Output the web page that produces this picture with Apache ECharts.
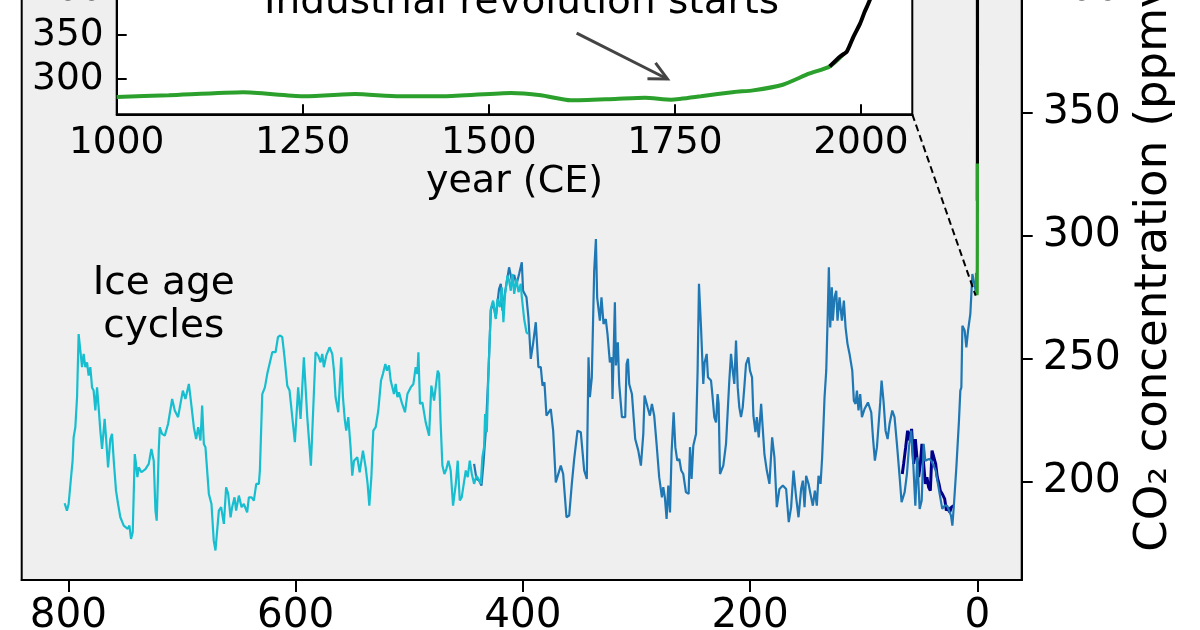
<!DOCTYPE html>
<html>
<head>
<meta charset="utf-8">
<script src="https://cdn.jsdelivr.net/npm/echarts@6/dist/echarts.min.js"></script>
<style>html,body{margin:0;padding:0;background:#fff;overflow:hidden}#c{width:1200px;height:710px;margin-top:-80px}</style>
</head>
<body>
<div id="c"></div>
<script>
// ---- data: main panel (thousands of years before present, ppmv) ----
const epicaCO2 = [[803.2,191.2],[801.2,188.2],[799.7,190.9],[797.3,203.1],[796.2,208.5],[795.3,218.0],[793.8,222.1],[792.3,234.3],[790.9,260.0],[789.4,253.3],[787.9,246.5],[786.5,251.9],[785.0,246.5],[783.5,248.5],[782.1,243.1],[780.6,246.5],[779.1,238.3],[777.7,237.0],[776.2,228.9],[774.7,238.3],[773.3,230.2],[771.8,220.7],[770.3,213.3],[768.0,225.5],[766.8,218.0],[765.0,205.8],[763.0,217.3],[761.5,219.4],[760.0,208.5],[758.0,196.3],[756.2,190.9],[754.2,185.5],[751.2,182.1],[749.8,182.8],[747.7,180.8],[746.2,182.1],[744.8,176.7],[743.3,179.4],[741.5,211.2],[740.4,207.2],[739.2,201.8],[738.0,205.8],[735.7,203.8],[732.1,205.1],[729.2,207.2],[726.9,213.3],[724.8,208.5],[723.3,188.2],[722.2,184.1],[720.4,212.6],[719.5,222.1],[717.5,219.4],[715.1,218.7],[712.2,223.4],[708.6,233.6],[706.3,228.9],[703.4,226.2],[701.3,231.6],[699.2,237.0],[696.9,233.6],[693.9,239.7],[692.5,234.3],[689.5,222.1],[687.5,217.3],[685.7,222.1],[683.7,216.7],[682.2,230.9],[680.7,215.3],[679.3,214.0],[676.3,195.0],[674.0,190.9],[672.0,176.0],[670.5,172.0],[669.0,180.1],[667.5,188.2],[665.5,189.6],[663.1,182.8],[661.1,197.7],[659.3,195.0],[657.2,185.5],[655.8,189.6],[653.7,193.6],[652.3,188.2],[649.9,194.3],[647.5,189.6],[645.5,190.9],[642.6,187.5],[641.1,193.6],[638.7,193.6],[636.7,192.3],[634.6,199.1],[632.3,199.1],[631.4,204.5],[629.3,235.6],[627.0,238.3],[624.9,243.8],[622.9,247.8],[620.5,252.6],[617.6,252.6],[615.5,258.7],[613.5,259.4],[611.7,258.7],[609.7,250.5],[607.3,239.0],[605.3,237.0],[600.6,216.0],[597.7,238.3],[595.6,225.5],[592.7,250.5],[589.7,226.2],[586.5,206.5],[582.4,252.6],[580.1,251.2],[578.0,248.5],[576.5,251.9],[575.1,246.5],[573.0,251.2],[570.1,254.6],[567.7,251.9],[566.2,245.1],[564.8,234.3],[562.4,228.2],[559.8,250.5],[558.3,234.3],[556.6,224.8],[555.4,220.7],[553.6,226.2],[551.6,214.0],[550.1,202.4],[548.6,208.5],[545.7,209.9],[543.6,203.8],[540.7,212.6],[538.3,205.8],[536.6,199.1],[535.1,190.2],[533.3,201.8],[531.6,220.7],[529.5,222.1],[527.2,228.9],[524.8,241.1],[523.1,243.8],[521.0,247.8],[519.6,245.1],[517.8,247.2],[516.3,241.1],[514.9,241.7],[513.4,235.6],[511.9,239.7],[510.4,234.3],[509.0,236.3],[506.6,232.2],[503.7,228.2],[501.6,235.6],[498.7,238.3],[496.3,239.7],[494.3,246.5],[492.8,243.8],[491.9,252.6],[490.5,231.6],[488.4,232.2],[486.7,231.6],[485.5,224.1],[482.5,218.7],[480.5,239.0],[478.1,232.9],[476.7,238.3],[474.9,245.1],[473.7,243.8],[472.3,223.4],[470.8,206.5],[469.0,203.1],[467.3,205.1],[465.5,208.5],[463.5,204.5],[461.4,190.2],[459.0,199.1],[457.3,208.5],[455.5,192.3],[453.8,193.6],[452.0,199.1],[450.2,204.5],[448.5,201.8],[446.7,208.5],[444.9,203.1],[442.9,199.1],[440.8,202.4],[439.1,201.1],[437.0,199.1],[435.6,209.9],[434.1,214.0],[433.2,227.5],[431.7,220.1],[430.3,243.8],[428.2,270.2],[426.2,273.6],[423.8,266.1],[422.3,274.3],[420.3,270.9],[418.5,279.0],[417.1,264.8],[415.6,276.3],[413.5,283.7],[412.1,281.7],[410.6,277.6],[409.1,284.4],[407.6,276.3],[405.6,282.4],[403.8,277.0],[401.8,280.4],[400.9,275.0],[398.8,266.0],[396.8,260.7],[395.4,260.0]];

const vostokCO2 = [[442.9,207.2],[440.8,201.1],[438.5,200.4],[436.4,198.4],[434.7,207.2],[432.6,220.7],[430.3,243.8],[428.2,269.5],[426.2,272.9],[423.8,266.8],[420.9,278.4],[419.4,280.4],[417.9,269.5],[415.6,277.0],[412.1,287.1],[409.7,281.7],[407.6,284.0],[405.6,280.0],[403.3,284.4],[400.9,289.2],[399.8,277.6],[396.8,274.9],[395.1,266.8],[393.0,249.9],[391.0,256.0],[388.6,264.8],[386.3,246.5],[384.2,246.5],[382.7,239.0],[381.0,240.4],[379.2,226.8],[375.4,229.5],[373.3,220.7],[371.0,199.7],[366.6,206.5],[364.5,203.1],[361.6,185.5],[359.2,186.2],[356.9,199.1],[354.8,209.2],[351.9,220.7],[349.0,220.1],[346.0,204.5],[343.7,201.1],[342.2,250.5],[341.0,234.3],[339.3,242.4],[337.2,285.8],[335.7,298.6],[334.6,274.9],[332.2,265.4],[330.8,274.9],[329.0,264.1],[327.0,266.1],[325.5,260.0],[323.4,248.5],[321.7,250.5],[321.1,233.6],[319.0,272.9],[318.1,247.2],[316.4,256.6],[315.2,239.7],[312.8,226.2],[309.9,226.2],[308.7,247.8],[307.5,249.9],[306.4,239.7],[304.0,235.6],[301.1,217.3],[298.4,212.6],[296.1,206.5],[294.0,219.4],[292.9,235.0],[290.2,230.2],[288.2,226.8],[286.4,231.6],[284.4,226.8],[282.3,215.3],[280.0,201.8],[277.6,193.6],[276.4,197.7],[275.0,193.6],[273.5,184.8],[272.0,198.4],[270.5,187.5],[269.1,211.9],[267.3,228.2],[265.8,214.0],[264.1,208.5],[262.3,209.2],[260.6,204.5],[258.8,203.1],[256.5,195.7],[254.1,195.0],[252.9,214.0],[251.5,201.1],[250.0,214.6],[247.6,219.4],[246.2,245.1],[245.0,280.4],[243.2,262.7],[241.2,239.7],[240.0,248.5],[238.2,251.9],[237.1,242.4],[234.4,241.1],[233.0,234.3],[231.5,226.2],[230.0,224.1],[228.6,235.6],[227.7,231.6],[226.5,203.1],[223.6,206.5],[221.2,215.3],[219.7,214.6],[218.3,241.1],[216.8,251.9],[215.3,245.1],[213.9,239.7],[212.4,257.3],[210.9,238.3],[209.5,230.2],[208.0,226.2],[206.5,230.2],[205.1,238.3],[203.6,247.8],[201.5,250.5],[200.1,245.1],[198.3,242.4],[197.1,226.8],[195.3,220.1],[194.1,226.2],[192.4,218.0],[190.3,231.6],[188.9,230.9],[187.4,211.2],[185.3,204.5],[183.0,199.1],[180.6,218.0],[178.6,209.9],[176.5,189.6],[174.2,197.0],[171.2,198.4],[168.3,197.0],[166.0,183.5],[163.9,189.6],[161.8,204.5],[159.5,193.6],[157.4,185.5],[155.1,197.0],[153.6,200.4],[152.1,189.6],[150.7,202.4],[148.6,199.1],[146.9,195.0],[144.8,190.2],[143.0,196.3],[141.3,190.2],[139.8,202.4],[138.0,199.1],[136.6,209.9],[135.4,223.4],[134.5,234.3],[133.0,245.1],[131.6,269.5],[130.7,287.1],[129.5,262.7],[128.1,279.0],[127.2,265.4],[125.7,274.9],[124.2,277.6],[123.1,265.4],[121.3,274.9],[119.2,265.4],[117.5,273.6],[116.0,262.7],[114.3,256.0],[112.5,251.9],[110.1,245.1],[108.7,232.9],[107.2,231.6],[106.0,237.0],[104.6,228.9],[103.1,235.6],[101.6,226.2],[99.3,229.5],[96.3,232.2],[93.4,228.2],[91.9,218.0],[90.2,208.5],[88.4,214.0],[86.9,214.0],[85.5,232.2],[84.3,241.1],[82.5,232.2],[80.8,220.7],[79.0,217.3],[77.3,223.4],[74.9,228.9],[72.9,226.2],[70.8,215.3],[68.4,201.8],[66.7,191.6],[64.0,195.7],[62.0,203.1],[60.2,214.0],[58.2,220.7],[56.7,209.9],[54.6,190.2],[52.9,209.9],[50.8,188.9],[49.0,192.3],[47.3,215.3],[45.8,208.5],[44.4,208.5],[42.6,209.2],[40.5,208.5],[38.5,206.5],[36.7,204.5],[34.7,199.1],[33.2,195.0],[30.9,188.9],[28.8,190.2],[26.7,190.2],[25.0,189.6],[23.2,186.2],[22.0,182.1],[20.6,190.9],[18.5,205.8],[16.2,224.8],[15.0,237.0],[14.1,238.3],[13.2,263.4],[11.2,261.4],[9.7,254.6],[8.2,261.4],[6.2,268.2],[4.4,284.4],[2.9,283.7],[1.5,277.6],[0.3,279.0]];

const taylorCO2 = [[66.1,203.1],[64.9,207.2],[63.1,214.0],[61.4,220.7],[59.6,216.7],[57.9,221.4],[56.1,207.2],[54.6,217.3],[53.2,218.0],[51.7,201.8],[50.2,207.2],[48.8,215.3],[47.3,215.3],[45.8,199.1],[44.4,201.8],[42.9,197.7],[41.4,196.3],[39.9,212.6],[38.5,212.6],[36.7,207.2],[35.3,201.8],[33.8,199.1],[32.6,196.3],[30.9,195.0],[28.8,193.0],[27.3,188.2],[25.9,189.6],[24.4,187.5],[22.9,189.6],[20.9,190.2]];

// ---- data: inset (year CE, ppmv) ----
const lawDomeYear = [1000,1070,1170,1250,1320,1380,1440,1530,1570,1610,1670,1710,1745,1785,1830,1855,1895,1930,1958,1978];
const lawDomeCO2  = [279.7,281.5,284.9,280.4,283.0,280.4,280.4,284.2,281.5,275.8,277.4,278.6,276.6,280.4,285.3,287.1,293.5,306.0,314.2,329.3];
const maunaLoaYear = [1958,1972,1981,1990,1999,2005,2012,2018];
const maunaLoaCO2  = [314.2,325.5,331.0,348.0,363.0,376.0,389.5,408.0];

// ---- tick labels ----
const mainXTicks = [0,200,400,600,800];
const mainYTicks = [200,250,300,350,400];
const insetXTicks = [1000,1250,1500,1750,2000];
const insetYTicks = [300,350,400];

const FONT = 'DejaVu Sans';
const toKyr = y => (1950 - y) / 1000;
const zip = (a, b) => a.map((v, i) => [v, b[i]]);

const chart = echarts.init(document.getElementById('c'), null, {renderer: 'canvas'});

const axisBase = (extra) => Object.assign({
  type: 'value',
  splitLine: {show: false},
  axisLine: {show: true, onZero: false, lineStyle: {color: '#000', width: 2}},
}, extra);

const option = {
  animation: false,
  backgroundColor: '#ffffff',
  grid: [
    {left: 21.7, right: 178.3, top: 15.5, bottom: 50, show: true, outerBoundsMode: 'none', containLabel: false,
     backgroundColor: '#efefef', borderColor: '#000', borderWidth: 2},
    {left: 116.7, right: 287.7, top: 53, bottom: 515.7, show: true, outerBoundsMode: 'none', containLabel: false,
     backgroundColor: '#ffffff', borderColor: '#000', borderWidth: 2}
  ],
  xAxis: [
    axisBase({gridIndex: 0, min: -39, max: 841, inverse: true, position: 'bottom',
      axisTick: {show: true, customValues: mainXTicks, length: 12, lineStyle: {color: '#000', width: 2}},
      axisLabel: {customValues: mainXTicks, formatter: v => String(v), fontSize: 40.5, color: '#000', fontFamily: FONT, margin: 16}}),
    axisBase({gridIndex: 1, min: 1000, max: 2069, position: 'bottom',
      name: 'year (CE)', nameLocation: 'middle', nameGap: 46,
      nameTextStyle: {fontSize: 38, color: '#000', fontFamily: FONT},
      axisTick: {show: true, inside: true, customValues: insetXTicks, length: 10, lineStyle: {color: '#000', width: 2}},
      axisLabel: {customValues: insetXTicks, formatter: v => String(v), fontSize: 37.5, color: '#000', fontFamily: FONT, margin: 10}})
  ],
  yAxis: [
    axisBase({gridIndex: 0, min: 160, max: 422, position: 'right',
      name: 'CO\u2082 concentration (ppmv)', nameLocation: 'middle', nameRotate: 90, nameGap: 109,
      nameTextStyle: {fontSize: 45, color: '#000', fontFamily: FONT},
      axisTick: {show: true, customValues: mainYTicks, length: 11, lineStyle: {color: '#000', width: 2}},
      axisLabel: {customValues: mainYTicks, formatter: v => String(v), fontSize: 41, color: '#000', fontFamily: FONT, margin: 21}}),
    axisBase({gridIndex: 1, min: 260, max: 420, position: 'left',
      axisTick: {show: true, inside: true, customValues: insetYTicks, length: 10, lineStyle: {color: '#000', width: 2}},
      axisLabel: {customValues: insetYTicks, formatter: v => String(v), fontSize: 37.5, color: '#000', fontFamily: FONT, margin: 13}})
  ],
  series: [
    {type: 'line', xAxisIndex: 0, yAxisIndex: 0, data: taylorCO2, showSymbol: false,
     lineStyle: {color: '#00008b', width: 3}, z: 2},
    {type: 'line', xAxisIndex: 0, yAxisIndex: 0, data: vostokCO2, showSymbol: false,
     lineStyle: {color: '#1f77b4', width: 2.2}, z: 3},
    {type: 'line', xAxisIndex: 0, yAxisIndex: 0, data: epicaCO2, showSymbol: false,
     lineStyle: {color: '#17becf', width: 2.2}, z: 4},
    {type: 'line', xAxisIndex: 0, yAxisIndex: 0, data: zip(maunaLoaYear.map(toKyr), maunaLoaCO2), showSymbol: false,
     lineStyle: {color: '#000000', width: 3.2}, z: 5},
    {type: 'line', xAxisIndex: 0, yAxisIndex: 0, data: zip(lawDomeYear.map(toKyr), lawDomeCO2), showSymbol: false,
     lineStyle: {color: '#2ca02c', width: 3.2}, z: 6},
    {type: 'line', xAxisIndex: 1, yAxisIndex: 1, data: zip(lawDomeYear, lawDomeCO2), showSymbol: false, smooth: 0.2,
     lineStyle: {color: '#2ca02c', width: 4}, z: 5},
    {type: 'line', xAxisIndex: 1, yAxisIndex: 1, data: zip(maunaLoaYear, maunaLoaCO2), showSymbol: false, smooth: 0.2,
     lineStyle: {color: '#000000', width: 4}, z: 6},
    {type: 'custom', xAxisIndex: 1, yAxisIndex: 1, data: [[1618, 352, 1740, 300]], z: 7,
     renderItem: function (params, api) {
       const a = api.coord([api.value(0), api.value(1)]);
       const b = api.coord([api.value(2), api.value(3)]);
       const ang = Math.atan2(a[1] - b[1], a[0] - b[0]);
       const L = 20, spread = 26.5 * Math.PI / 180;
       const h1 = [b[0] + L * Math.cos(ang + spread), b[1] + L * Math.sin(ang + spread)];
       const h2 = [b[0] + L * Math.cos(ang - spread), b[1] + L * Math.sin(ang - spread)];
       const st = {stroke: '#444444', lineWidth: 3, fill: null};
       return {type: 'group', children: [
         {type: 'line', shape: {x1: a[0], y1: a[1], x2: b[0], y2: b[1]}, style: st},
         {type: 'polyline', shape: {points: [h1, b, h2]}, style: st}
       ]};
     }}
  ]
};

chart.setOption(option);

// annotations positioned from data coordinates
const cornerInset = chart.convertToPixel({gridIndex: 1}, [2069, 260]);
const targetMain = chart.convertToPixel({gridIndex: 0}, [1.5, 275.6]);
const iceLabel = chart.convertToPixel({gridIndex: 0}, [716, 271.7]);
const indLabel = chart.convertToPixel({gridIndex: 1}, [1544, 386]);

chart.setOption({
  graphic: [
    {type: 'line', z: 100, shape: {x1: cornerInset[0], y1: cornerInset[1], x2: targetMain[0], y2: targetMain[1]},
     style: {stroke: '#000', lineWidth: 2, lineDash: [7, 4]}},
    {type: 'text', z: 100, x: iceLabel[0], y: iceLabel[1],
     style: {text: 'Ice age\ncycles', fontSize: 39, fontFamily: FONT, fill: '#000', align: 'center', verticalAlign: 'middle', lineHeight: 43}},
    {type: 'text', z: 100, x: indLabel[0], y: indLabel[1],
     style: {text: 'Industrial revolution starts', fontSize: 39, fontFamily: FONT, fill: '#000', align: 'center', verticalAlign: 'middle'}}
  ]
});
</script>
</body>
</html>
